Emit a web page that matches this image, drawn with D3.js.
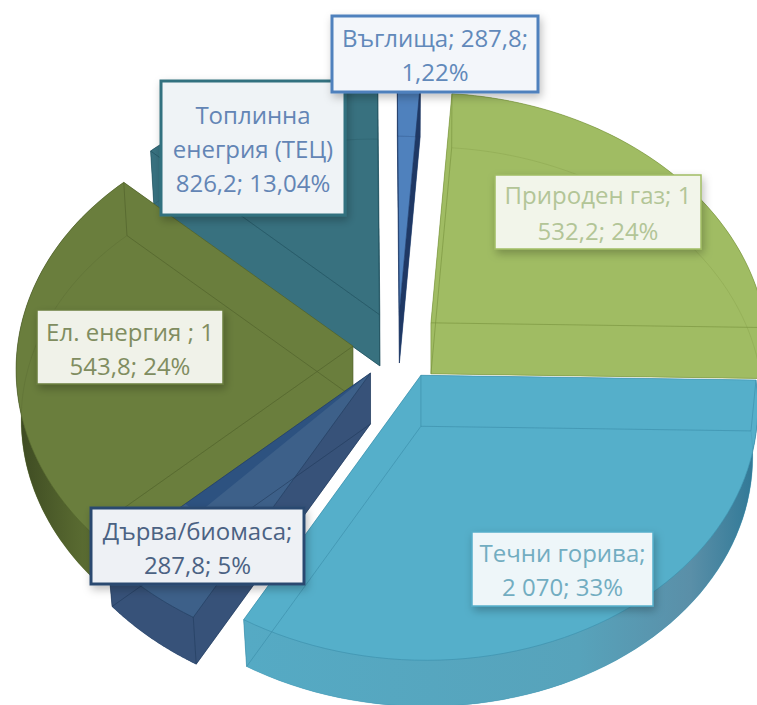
<!DOCTYPE html>
<html>
<head>
<meta charset="utf-8">
<script src="https://cdn.jsdelivr.net/npm/d3@7"></script>
<style>
  html, body { margin: 0; padding: 0; background: #fff; }
  svg { display: block; }
  text { font-family: "Open Sans", sans-serif; font-size: 24px; text-anchor: middle; }
</style>
</head>
<body>
<div id="chart"></div>
<script>
// data
const categories = ["Въглища", "Природен газ", "Течни горива", "Дърва/биомаса", "Ел. енергия", "Топлинна енергия (ТЕЦ)"];
const values = [287.8, 1532.2, 2070, 287.8, 1543.8, 826.2];
const percents = [1.22, 24, 33, 5, 24, 13.04];
const labelLines = [
  ["Въглища; 287,8;", "1,22%"],
  ["Природен газ; 1", "532,2; 24%"],
  ["Течни горива;", "2 070; 33%"],
  ["Дърва/биомаса;", "287,8; 5%"],
  ["Ел. енергия ; 1", "543,8; 24%"],
  ["Топлинна", "енегрия (ТЕЦ)", "826,2; 13,04%"]
];

const width = 757, height = 705;

// slice look, same order as the data
const sliceStyle = [
  { top: "#4f81bd", wall: "#1f3864", line: "#1f3864" },
  { top: "#a0bc63", wall: "#a0bc63", line: "#76913c" },
  { top: "#55afca", wall: "#55afca", line: "#3a8ca8",
    outer: [[0, "#55aac4"], [0.65, "#57a3bb"], [0.87, "#5a8fa8"], [1, "#2f7896"]], outerX: [246, 757] },
  { top: "#3d6089", wall: "#375279", line: "#223a5c", band: "#2d5280" },
  { top: "#6a7e3d", wall: "#6a7e3d", line: "#4e5f2a",
    outer: [[0, "#3d4a22"], [0.5, "#56672f"], [1, "#6a7e3d"]], outerX: [18, 130] },
  { top: "#38717f", wall: "#38717f", line: "#1f4f5c" }
];

// label boxes as placed by hand in the original
const labelBoxes = [
  { x: 332, y: 16, w: 206, h: 76, fill: "#f3f6fa", stroke: "#4f81bd", sw: 3, color: "#6189ba", lineY: [38, 72] },
  { x: 495, y: 175, w: 206, h: 74, fill: "#f2f5ea", stroke: "#a0bc63", sw: 1.5, color: "#b3c597", lineY: [195, 231] },
  { x: 472, y: 532, w: 181, h: 74, fill: "#eef6f9", stroke: "#55afca", sw: 1.5, color: "#72adc1", lineY: [553, 587] },
  { x: 91, y: 508, w: 213, h: 76, fill: "#eef1f5", stroke: "#2b4a70", sw: 3, color: "#4b6283", lineY: [531, 565] },
  { x: 37, y: 310, w: 186, h: 74, fill: "#f0f2e9", stroke: "#6a7e3d", sw: 1.5, color: "#808d60", lineY: [332, 366] },
  { x: 161, y: 81, w: 184, h: 134, fill: "#eff3f6", stroke: "#31717f", sw: 3, color: "#6385b5", lineY: [115, 149, 183] }
];

// the "camera" of the 3D pie
const center = { x: 398, y: 346 };
const explodeX = 45, explodeY = 34;
const depth = 51;
const bottomShrink = 0.985;
const perspective = 0.107;
const roll = 0.012;

const xScale = d3.scaleLinear().domain([-1, 1]).range([-335, 335]);
const yScale = d3.scaleLinear().domain([-1, 1]).range([-254.5, 254.5]);

const svg = d3.select("#chart").append("svg")
  .attr("width", width)
  .attr("height", height);

const defs = svg.append("defs");
defs.append("filter").attr("id", "shadow")
  .attr("x", "-10%").attr("y", "-10%").attr("width", "125%").attr("height", "130%")
  .append("feDropShadow")
  .attr("dx", 2).attr("dy", 4).attr("stdDeviation", 4)
  .attr("flood-color", "#000").attr("flood-opacity", 0.25);

const pie = d3.pie().sort(null)
  .startAngle(-0.4 * Math.PI / 180)
  .endAngle((360 - 0.4) * Math.PI / 180);
const slices = pie(percents);

const line = d3.line();

// pie plane -> screen, relative to the slice apex
function project(slice, angle, radius, bottom) {
  const mid = (slice.startAngle + slice.endAngle) / 2;
  const ax = center.x + explodeX * Math.sin(mid);
  const ay = center.y - explodeY * Math.cos(mid);
  const r = bottom ? radius * bottomShrink : radius;
  const x = Math.sin(angle) * r, y = -Math.cos(angle) * r;
  const w = 1 - perspective * y;
  const sx = xScale(x) / w;
  return [ax + sx, ay + yScale(y) / w + roll * sx + (bottom ? depth : 0)];
}

function arcPoints(slice, bottom) {
  const n = 60;
  return d3.range(n + 1).map(i =>
    project(slice, slice.startAngle + (slice.endAngle - slice.startAngle) * i / n, 1, bottom));
}

// draw back slices first, the big front one last
const order = [5, 0, 1, 4, 3, 2];

order.forEach(i => {
  const s = slices[i], st = sliceStyle[i];
  const g = svg.append("g").attr("class", "slice");
  g.append("title").text(`${categories[i]}: ${values[i]}`);

  const apexTop = project(s, 0, 0, false), apexBot = project(s, 0, 0, true);
  const topArc = arcPoints(s, false), botArc = arcPoints(s, true);
  const topFace = [apexTop, ...topArc];
  const botFace = [apexBot, ...botArc];
  const lastTop = topArc[topArc.length - 1], lastBot = botArc[botArc.length - 1];

  let outerFill = st.wall;
  if (st.outer) {
    const id = "outer" + i;
    const grad = defs.append("linearGradient").attr("id", id)
      .attr("gradientUnits", "userSpaceOnUse")
      .attr("x1", st.outerX[0]).attr("x2", st.outerX[1]).attr("y1", 0).attr("y2", 0);
    st.outer.forEach(d => grad.append("stop").attr("offset", d[0]).attr("stop-color", d[1]));
    outerFill = `url(#${id})`;
  }

  g.append("path").attr("d", line(botFace) + "Z").attr("fill", st.top);
  // the two radial walls
  [[topArc[0], botArc[0]], [lastTop, lastBot]].forEach(e => {
    g.append("path").attr("d", line([apexTop, apexBot, e[1], e[0]]) + "Z").attr("fill", st.wall);
  });
  g.append("path").attr("d", line([...topArc, ...botArc.slice().reverse()]) + "Z").attr("fill", outerFill);
  g.append("path").attr("d", line(topFace) + "Z").attr("fill", st.top);

  // darker strip along the edge of the small wedge
  if (st.band) {
    const a = s.endAngle;
    g.append("path")
      .attr("d", line([apexTop, project(s, a, 0.72, false), project(s, a - 4 * Math.PI / 180, 0.72, false)]) + "Z")
      .attr("fill", st.band);
  }

  // straight edges show through the faces, the arcs only faintly
  [[apexTop, topArc[0]], [apexTop, lastTop], [apexBot, botArc[0]], [apexBot, lastBot], [apexTop, apexBot],
    [topArc[0], botArc[0]], [lastTop, lastBot]].forEach(e => {
    g.append("path").attr("d", line(e)).attr("fill", "none")
      .attr("stroke", st.line).attr("stroke-width", 1).attr("stroke-opacity", 0.6);
  });
  g.append("path").attr("d", line(topArc)).attr("fill", "none")
    .attr("stroke", st.line).attr("stroke-width", 1).attr("stroke-opacity", 0.6);
  g.append("path").attr("d", line(botArc)).attr("fill", "none")
    .attr("stroke", st.line).attr("stroke-width", 1).attr("stroke-opacity", 0.25);
});

// labels
const labelOrder = [5, 0, 1, 2, 4, 3];
labelOrder.forEach(i => {
  const b = labelBoxes[i];
  const g = svg.append("g").attr("class", "label");
  g.append("rect")
    .attr("x", b.x).attr("y", b.y).attr("width", b.w).attr("height", b.h)
    .attr("fill", b.fill)
    .attr("stroke", b.stroke).attr("stroke-width", b.sw)
    .attr("filter", "url(#shadow)");
  labelLines[i].forEach((t, j) => {
    g.append("text")
      .attr("x", b.x + b.w / 2).attr("y", b.lineY[j])
      .attr("dy", "0.36em")
      .attr("fill", b.color)
      .text(t);
  });
});
</script>
</body>
</html>
